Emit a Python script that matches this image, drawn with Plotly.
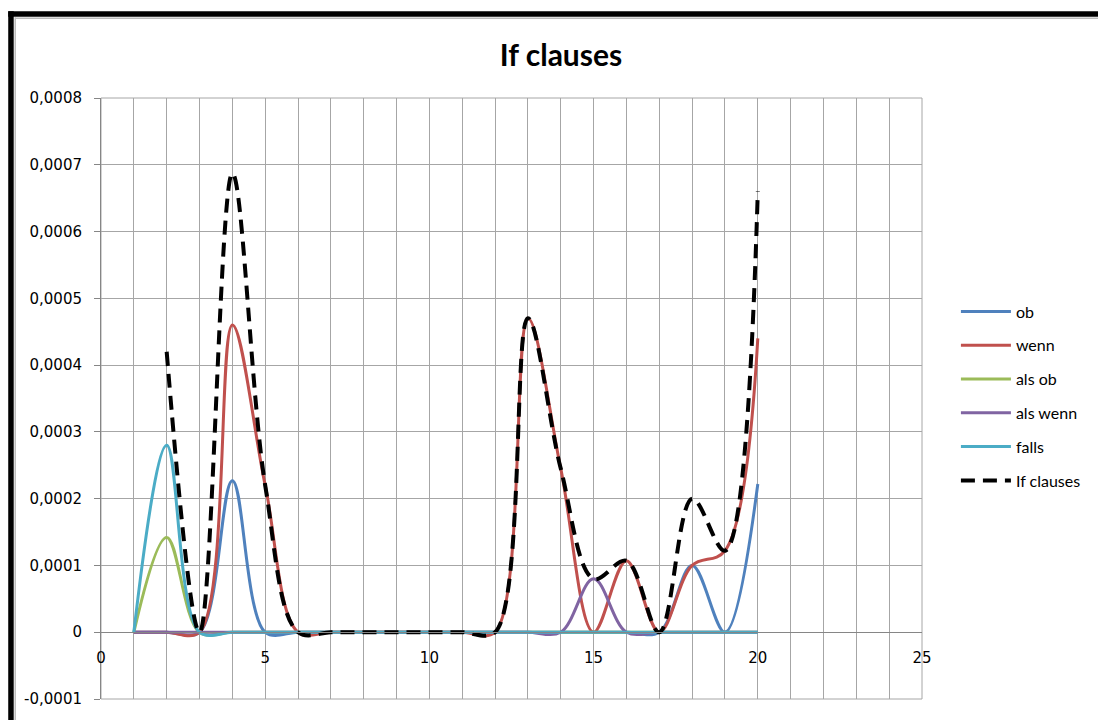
import plotly.graph_objects as go

# ---- data ----
x_vals = list(range(1, 21))
ob = [0, 0, 0, 0.000227, 0, 0, 0, 0, 0, 0, 0, 0, 0, 0, 0, 0, 0, 0.0001, 0, 0.000222]
wenn = [0, 0, 0, 0.00046, 0.00022, 0, 0, 0, 0, 0, 0, 0, 0.00047, 0.000245, 0, 0.000107, 0, 0.0001, 0.000122, 0.00044]
als_ob = [0, 0.000142, 0, 0, 0, 0, 0, 0, 0, 0, 0, 0, 0, 0, 0, 0, 0, 0, 0, 0]
als_wenn = [0, 0, 0, 0, 0, 0, 0, 0, 0, 0, 0, 0, 0, 0, 0.00008, 0, 0, 0, 0, 0]
falls = [0, 0.00028, 0, 0, 0, 0, 0, 0, 0, 0, 0, 0, 0, 0, 0, 0, 0, 0, 0, 0]
if_clauses = [None, 0.00042, 0, 0.000687, 0.00022, 0, 0, 0, 0, 0, 0, 0, 0.00047, 0.000245,
              0.00008, 0.000107, 0, 0.0002, 0.000122, 0.00066]

series_names = ["ob", "wenn", "als ob", "als wenn", "falls", "If clauses"]
y_tick_vals = [-0.0001, 0, 0.0001, 0.0002, 0.0003, 0.0004, 0.0005, 0.0006, 0.0007, 0.0008]
y_tick_text = ["-0,0001", "0", "0,0001", "0,0002", "0,0003", "0,0004", "0,0005", "0,0006", "0,0007", "0,0008"]
x_tick_vals = [0, 5, 10, 15, 20, 25]

colors = ["#4F81BD", "#C0504D", "#9BBB59", "#8064A2", "#4BACC6", "#000000"]
all_series = [ob, wenn, als_ob, als_wenn, falls, if_clauses]

fig = go.Figure()
for i, (name, ys) in enumerate(zip(series_names, all_series)):
    dashed = name == "If clauses"
    fig.add_trace(go.Scatter(
        x=x_vals, y=ys, name=name, mode="lines",
        line=dict(color=colors[i], width=4 if dashed else 3, shape="spline", smoothing=1,
                  dash="14px,8px" if dashed else "solid"),
        legendgroup=name, connectgaps=False,
    ))

# margins in px
L, R, T, B = 101, 174, 98, 19
W, H = 1098, 720
pw, ph = W - L - R, H - T - B


def px2x(px):
    return (px - L) / pw


def py2y(py):
    return (H - B - py) / ph


grid_col = "#A6A6A6"
axis_col = "#868686"

fig.update_layout(
    width=W, height=H,
    margin=dict(l=L, r=R, t=T, b=B, pad=0),
    paper_bgcolor="white", plot_bgcolor="white",
    title=dict(text="<b>If clauses</b>", x=561 / W, xanchor="center",
               y=1 - 55 / H, yanchor="middle",
               font=dict(family="Lato", size=30, color="black")),
    showlegend=True,
    legend=dict(x=px2x(958), xanchor="left", y=py2y(397), yanchor="middle",
                font=dict(family="Lato", size=16, color="black"),
                itemwidth=50, tracegroupgap=10, bgcolor="rgba(0,0,0,0)"),
    xaxis=dict(range=[0, 25], tickvals=x_tick_vals, ticktext=[str(v) for v in x_tick_vals],
               showgrid=True, gridcolor=grid_col, gridwidth=1,
               minor=dict(dtick=1, showgrid=True, gridcolor=grid_col, gridwidth=1),
               anchor="free", position=1 / 9, showline=True, linecolor=axis_col, linewidth=1,
               ticks="", ticklabelstandoff=12, zeroline=False,
               tickfont=dict(family="DejaVu Sans", size=15, color="black")),
    yaxis=dict(range=[-0.0001, 0.0008], tickvals=y_tick_vals, ticktext=y_tick_text,
               showgrid=True, gridcolor=grid_col, gridwidth=1, zeroline=False,
               showline=True, linecolor=axis_col, linewidth=1,
               ticks="outside", ticklen=6, tickcolor=axis_col, ticklabelstandoff=9,
               tickfont=dict(family="DejaVu Sans", size=15, color="black")),
    shapes=[
        # plot area border
        dict(type="rect", xref="paper", yref="paper", x0=0, x1=1, y0=0, y1=1,
             line=dict(color=grid_col, width=1), layer="below"),
        # outer black frame (left and top)
        dict(type="rect", xref="paper", yref="paper", x0=px2x(8), x1=px2x(13.5), y0=py2y(725), y1=py2y(11),
             fillcolor="black", line=dict(width=0)),
        dict(type="rect", xref="paper", yref="paper", x0=px2x(8), x1=px2x(1105), y0=py2y(16.5), y1=py2y(11),
             fillcolor="black", line=dict(width=0)),
        dict(type="line", xref="paper", yref="paper", x0=px2x(15), x1=px2x(15), y0=py2y(725), y1=py2y(17),
             line=dict(color="#BBBBBB", width=1.5)),
        dict(type="line", xref="paper", yref="paper", x0=px2x(15), x1=px2x(1105), y0=py2y(18), y1=py2y(18),
             line=dict(color="#BBBBBB", width=1.5)),
    ],
)

fig.write_html("out.html")
